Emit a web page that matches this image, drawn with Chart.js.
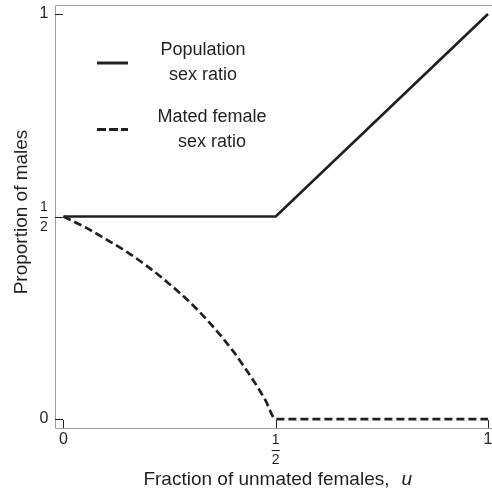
<!DOCTYPE html>
<html>
<head>
<meta charset="utf-8">
<title>Sex ratio</title>
<script src="https://cdn.jsdelivr.net/npm/chart.js@4.4.1/dist/chart.umd.min.js"></script>
<style>
  html, body { margin: 0; padding: 0; background: #fff; overflow: hidden; }
  #wrap { width: 492px; height: 492px; position: relative; }
</style>
</head>
<body>
<div id="wrap"><canvas id="myChart"></canvas></div>
<script>
// fraction of unmated females (u) and proportion of males
const popU = [0, 0.5, 1];
const popRatio = [0.5, 0.5, 1];

const matedU = [0, 0.05, 0.1, 0.15, 0.2, 0.25, 0.3, 0.35, 0.4, 0.425, 0.45, 0.475, 0.5, 1];
const matedRatio = [0.5, 0.474, 0.444, 0.412, 0.375, 0.333, 0.286, 0.231, 0.167, 0.13, 0.091, 0.048, 0, 0];

const xTicks = [0, 0.5, 1];
const xTickLabels = ["0", "1/2", "1"];
const yTicks = [0, 0.5, 1];
const yTickLabels = ["0", "1/2", "1"];

const seriesNames = ["Population sex ratio", "Mated female sex ratio"];
const legendLines = [["Population", "sex ratio"], ["Mated female", "sex ratio"]];
const xTitle = "Fraction of unmated females,";
const xVar = "u";
const yTitle = "Proportion of males";

const FONT = "'Liberation Sans', Arial, Helvetica, sans-serif";
const INK = "#231f20";
const FRAME = "#a0a0a0";

function toPoints(xs, ys) {
    return xs.map((x, i) => ({ x: x, y: ys[i] }));
}

// draws "0", "1" or a stacked fraction like "1/2"
function drawTickLabel(ctx, text, x, y, horizontal) {
    ctx.fillStyle = INK;
    ctx.textAlign = "center";
    ctx.textBaseline = "middle";
    if (text.indexOf("/") < 0) {
        ctx.font = "16px " + FONT;
        ctx.fillText(text, x, horizontal ? y + 12 : y);
        return;
    }
    const parts = text.split("/");
    const mid = horizontal ? y + 21.5 : y;
    ctx.font = "14px " + FONT;
    ctx.fillText(parts[0], x, mid - 9.5);
    ctx.fillText(parts[1], x, mid + 10.5);
    ctx.strokeStyle = INK;
    ctx.lineWidth = 1;
    ctx.beginPath();
    ctx.moveTo(x - 4, Math.round(mid) + 0.5);
    ctx.lineTo(x + 4, Math.round(mid) + 0.5);
    ctx.stroke();
}

const framePlugin = {
    id: "framePlugin",
    afterDraw(chart) {
        const ctx = chart.ctx;
        const a = chart.chartArea;
        const xs = chart.scales.x;
        const ys = chart.scales.y;
        ctx.save();

        // frame (right side falls outside the picture)
        ctx.strokeStyle = FRAME;
        ctx.lineWidth = 1;
        ctx.setLineDash([]);
        ctx.beginPath();
        ctx.moveTo(a.right + 2, a.top + 0.5);
        ctx.lineTo(a.left + 0.5, a.top + 0.5);
        ctx.lineTo(a.left + 0.5, a.bottom + 0.5);
        ctx.lineTo(a.right + 2, a.bottom + 0.5);
        ctx.stroke();

        // inward ticks
        ctx.strokeStyle = INK;
        ctx.beginPath();
        yTicks.forEach(v => {
            const py = Math.round(ys.getPixelForValue(v)) + 0.5;
            ctx.moveTo(a.left, py);
            ctx.lineTo(a.left + 8, py);
        });
        xTicks.forEach(v => {
            const px = Math.round(xs.getPixelForValue(v)) + 0.5;
            ctx.moveTo(px, a.bottom);
            ctx.lineTo(px, a.bottom - 8);
        });
        ctx.stroke();

        yTicks.forEach((v, i) => drawTickLabel(ctx, yTickLabels[i], 44, ys.getPixelForValue(v), false));
        xTicks.forEach((v, i) => drawTickLabel(ctx, xTickLabels[i], xs.getPixelForValue(v), a.bottom, true));

        // axis titles
        ctx.fillStyle = INK;
        ctx.textBaseline = "middle";
        ctx.font = "19px " + FONT;
        const w1 = ctx.measureText(xTitle).width;
        ctx.font = "italic 19px " + FONT;
        const w2 = ctx.measureText(xVar).width;
        const gap = 12;
        const cx = (xs.getPixelForValue(0) + xs.getPixelForValue(1)) / 2 + 2;
        const startX = cx - (w1 + gap + w2) / 2;
        ctx.textAlign = "left";
        ctx.font = "19px " + FONT;
        ctx.fillText(xTitle, startX, 480);
        ctx.font = "italic 19px " + FONT;
        ctx.fillText(xVar, startX + w1 + gap, 480);

        ctx.save();
        ctx.translate(22, 212);
        ctx.rotate(-Math.PI / 2);
        ctx.textAlign = "center";
        ctx.font = "19px " + FONT;
        ctx.fillText(yTitle, 0, 0);
        ctx.restore();

        // legend
        const rows = [{ y: 63, textX: 203, dash: [] }, { y: 129.5, textX: 212, dash: [9, 3] }];
        chart.data.datasets.forEach((ds, i) => {
            const r = rows[i];
            ctx.strokeStyle = ds.borderColor;
            ctx.lineWidth = 3;
            ctx.setLineDash(r.dash);
            ctx.beginPath();
            ctx.moveTo(97, r.y);
            ctx.lineTo(128, r.y);
            ctx.stroke();
            ctx.setLineDash([]);
            ctx.fillStyle = INK;
            ctx.textAlign = "center";
            ctx.font = "18px " + FONT;
            ctx.fillText(legendLines[i][0], r.textX, r.y - 12.5);
            ctx.fillText(legendLines[i][1], r.textX, r.y + 12.5);
        });

        ctx.restore();
    }
};

const ctx = document.getElementById("myChart").getContext("2d");
new Chart(ctx, {
    type: "line",
    data: {
        datasets: [
            {
                label: seriesNames[0],
                data: toPoints(popU, popRatio),
                borderColor: INK,
                borderWidth: 2.7,
                pointRadius: 0,
                fill: false,
                tension: 0
            },
            {
                label: seriesNames[1],
                data: toPoints(matedU, matedRatio),
                borderColor: INK,
                borderWidth: 2.7,
                borderDash: [8, 4],
                pointRadius: 0,
                fill: false,
                cubicInterpolationMode: "monotone"
            }
        ]
    },
    options: {
        responsive: true,
        maintainAspectRatio: false,
        animation: false,
        layout: { padding: { left: 55, right: 0, top: 5, bottom: 64 } },
        plugins: {
            legend: { display: false },
            tooltip: { enabled: false }
        },
        scales: {
            x: { type: "linear", min: -0.02, max: 1.0094, display: false },
            y: { type: "linear", min: -0.022, max: 1.022, display: false }
        }
    },
    plugins: [framePlugin]
});
</script>
</body>
</html>
